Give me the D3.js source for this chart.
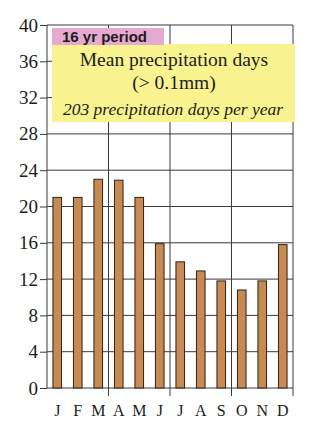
<!DOCTYPE html>
<html>
<head>
<meta charset="utf-8">
<script src="https://cdn.jsdelivr.net/npm/d3@7"></script>
<style>
  html, body { margin: 0; padding: 0; background: #ffffff; }
  svg { display: block; }
</style>
</head>
<body>
<div id="chart"></div>
<script>
// Monthly mean number of precipitation days (> 0.1 mm), 16-year record
const months = ["J", "F", "M", "A", "M", "J", "J", "A", "S", "O", "N", "D"];
const precipDays = [21.0, 21.0, 23.0, 22.9, 21.0, 15.9, 13.9, 12.9, 11.8, 10.8, 11.8, 15.8];
const yTicks = [0, 4, 8, 12, 16, 20, 24, 28, 32, 36, 40];
const periodLabel = "16 yr period";
const titleLines = ["Mean precipitation days", "(> 0.1mm)"];
const subtitle = "203 precipitation days per year";

const W = 327, H = 431;
const margin = { top: 25, right: 34, bottom: 43, left: 47 };
const iw = W - margin.left - margin.right;
const ih = H - margin.top - margin.bottom;

const svg = d3.select("#chart").append("svg")
  .attr("width", W).attr("height", H);

const g = svg.append("g")
  .attr("transform", `translate(${margin.left},${margin.top})`);

const x = d3.scaleBand()
  .domain(d3.range(months.length))
  .range([0, iw])
  .paddingInner(0.58)
  .paddingOuter(0.29);

const y = d3.scaleLinear().domain([0, 40]).range([ih, 0]);

const gridColor = "#3a3a3a";
const inkColor = "#1c1c1c";
const serif = "'Liberation Serif', 'Times New Roman', serif";

// horizontal grid lines
g.append("g").selectAll("line")
  .data(yTicks)
  .join("line")
  .attr("x1", 0).attr("x2", iw)
  .attr("y1", d => y(d)).attr("y2", d => y(d))
  .attr("stroke", gridColor).attr("stroke-width", 1);

// vertical lines marking each quarter, extending below the baseline
const step = iw / months.length;
const quarterEdges = [0, 3, 6, 9, 12];
g.append("g").selectAll("line")
  .data(quarterEdges)
  .join("line")
  .attr("x1", d => d * step).attr("x2", d => d * step)
  .attr("y1", 0).attr("y2", d => (d === 0 ? ih : ih + 8))
  .attr("stroke", gridColor).attr("stroke-width", 1);

// y axis
const yAxis = g.append("g")
  .call(d3.axisLeft(y).tickValues(yTicks).tickSize(7).tickPadding(2));
yAxis.select(".domain").remove();
yAxis.selectAll(".tick line").attr("stroke", gridColor);
yAxis.selectAll(".tick text")
  .attr("font-family", serif)
  .attr("font-size", 19)
  .attr("fill", inkColor);

// x axis labels
const xAxis = g.append("g")
  .attr("transform", `translate(0,${ih})`)
  .call(d3.axisBottom(x).tickFormat(i => months[i]).tickSize(0).tickPadding(17));
xAxis.select(".domain").remove();
xAxis.selectAll(".tick text")
  .attr("font-family", serif)
  .attr("font-size", 16)
  .attr("fill", inkColor);

// annotation panel
const note = g.append("g");
note.append("rect")
  .attr("x", 5).attr("y", 19)
  .attr("width", iw - 3).attr("height", 78)
  .attr("fill", "#f8f38e");
note.append("rect")
  .attr("x", 5).attr("y", 3)
  .attr("width", 112).attr("height", 17)
  .attr("fill", "#e6a9d0");
note.append("text")
  .attr("x", 15).attr("y", 16.5)
  .attr("font-family", "'Liberation Sans', Arial, sans-serif")
  .attr("font-weight", "bold")
  .attr("font-size", 15)
  .attr("fill", inkColor)
  .text(periodLabel);
note.selectAll("text.title")
  .data(titleLines)
  .join("text")
  .attr("class", "title")
  .attr("x", 127).attr("y", (d, i) => 41 + i * 23)
  .attr("text-anchor", "middle")
  .attr("font-family", serif)
  .attr("font-size", 19.5)
  .attr("fill", inkColor)
  .text(d => d);
note.append("text")
  .attr("x", 126).attr("y", 90)
  .attr("text-anchor", "middle")
  .attr("font-family", serif)
  .attr("font-style", "italic")
  .attr("font-size", 17.5)
  .attr("fill", inkColor)
  .text(subtitle);

// bars
g.append("g").selectAll("rect")
  .data(precipDays)
  .join("rect")
  .attr("x", (d, i) => x(i))
  .attr("y", d => y(d))
  .attr("width", x.bandwidth())
  .attr("height", d => y(0) - y(d))
  .attr("fill", "#c98a52")
  .attr("stroke", "#2e2116")
  .attr("stroke-width", 1);
</script>
</body>
</html>
